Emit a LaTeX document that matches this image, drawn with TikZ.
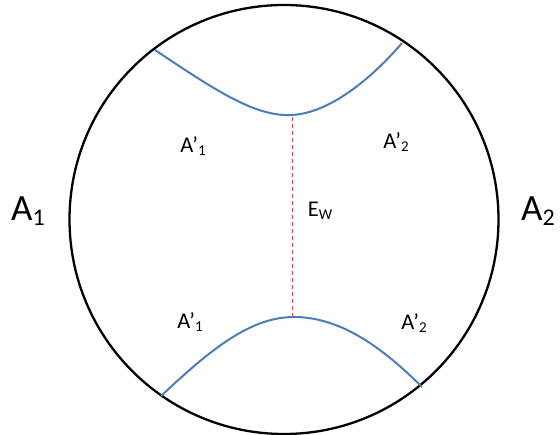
\documentclass[tikz,border=0pt]{standalone}
\usepackage{fontspec}
\setmainfont{Carlito}
\definecolor{curveblue}{HTML}{4A7EBB}
\definecolor{dashred}{HTML}{F04848}
\newcommand{\lowsub}[1]{{\fontsize{15}{15}\selectfont\raisebox{-0.18em}{#1}}}
\newcommand{\bigsub}[1]{{\fontsize{24}{24}\selectfont\raisebox{-0.18em}{#1}}}
\begin{document}
\begin{tikzpicture}[x=1pt,y=-1pt,
  lab/.style={font=\fontsize{22.5}{22.5}\selectfont, inner sep=0pt},
  biglab/.style={font=\fontsize{37}{37}\selectfont, inner sep=0pt},
  boundary/.style={draw=black, line width=2.3pt},
  geod/.style={draw=curveblue, line width=2pt},
  ewline/.style={draw=dashred, line width=1pt, dash pattern=on 4pt off 3pt}]
\useasboundingbox (0,0) rectangle (560,435);
\draw[boundary] (284,219.5) circle (214.5);
\coordinate (tl) at (155,50);
\coordinate (tm) at (292,115);
\coordinate (tr) at (402,43);
\coordinate (bl) at (161,396);
\coordinate (bm) at (294,317);
\coordinate (br) at (422,387);
\coordinate (dtop) at (292,117);
\coordinate (dbot) at (292,317);
\draw[geod] (tl) .. controls (215,90) and (255,117) .. (tm) .. controls (330,113) and (372,78) .. (tr);
\draw[geod] (bl) .. controls (210,350) and (250,317) .. (bm) .. controls (340,317) and (382,347) .. (br);
\draw[ewline] (dtop) -- (dbot);
\node[lab] (a1u) at (193,146) {A’\lowsub{1}};
\node[lab] (a2u) at (396,142) {A’\lowsub{2}};
\node[lab] (ew) at (320,211) {E\lowsub{W}};
\node[lab] (a1l) at (190,322) {A’\lowsub{1}};
\node[lab] (a2l) at (414,323) {A’\lowsub{2}};
\node[biglab] (A1) at (28,211) {A\bigsub{1}};
\node[biglab] (A2) at (538,211) {A\bigsub{2}};
\end{tikzpicture}
\end{document}
